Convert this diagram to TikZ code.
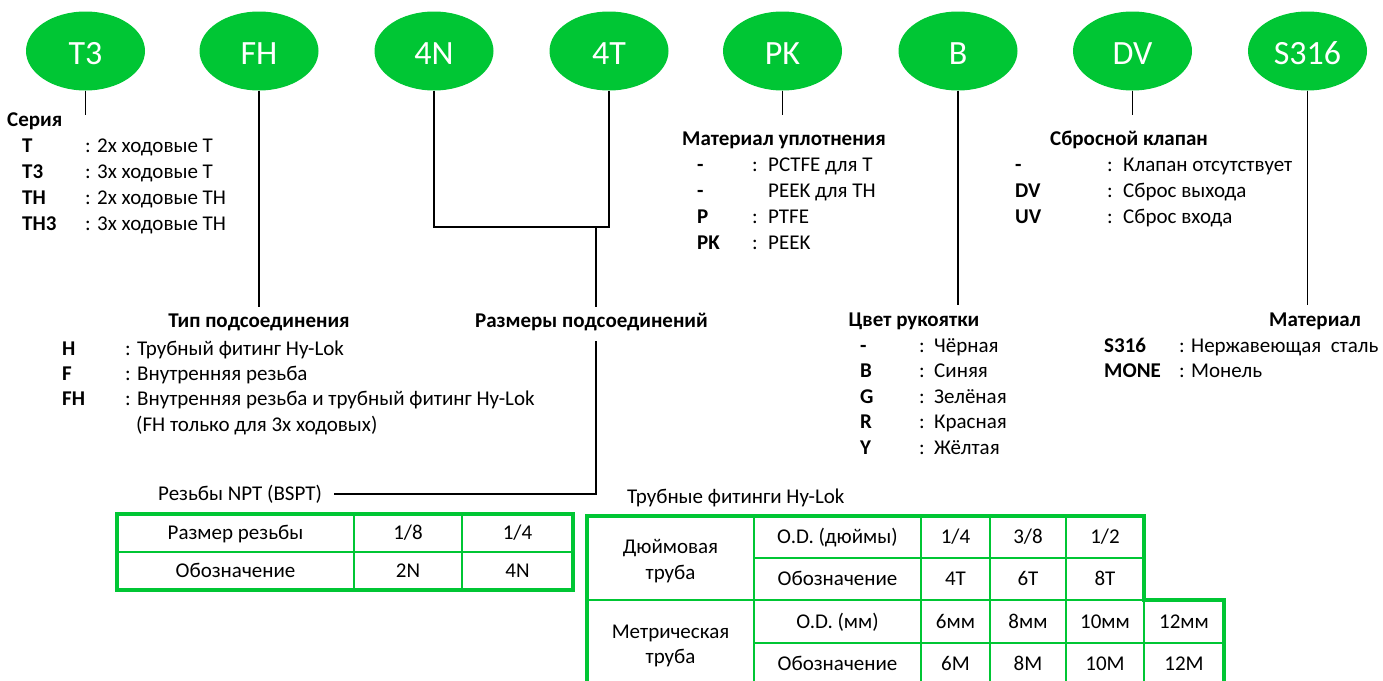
\documentclass[tikz,border=0pt]{standalone}
\usepackage{fontspec}
\setmainfont{Carlito}
\usetikzlibrary{shapes.geometric}
\definecolor{hg}{RGB}{0,198,52}
\begin{document}
\begin{tikzpicture}[x=1pt,y=-1pt,
  font=\fontsize{21}{25.5}\selectfont,
  oval/.style={ellipse, fill=hg, draw=none, minimum width=119pt, minimum height=79pt, inner sep=0pt, text=white, text height=27pt, text depth=0pt, font=\fontsize{34}{40}\selectfont},
  txt/.style={inner sep=0pt, text height=13.5pt, text depth=0pt, anchor=west},
  keyt/.style={txt, font=\fontsize{21}{25.5}\selectfont\bfseries},
  hdr/.style={inner sep=0pt, text height=13.5pt, text depth=0pt, anchor=center, font=\fontsize{21}{25.5}\selectfont\bfseries},
  coln/.style={inner sep=0pt, text height=13.5pt, text depth=0pt, anchor=center},
  tcell/.style={inner sep=0pt, text height=13.5pt, text depth=0pt, anchor=center},
  bigcell/.style={inner sep=0pt, align=center, anchor=center, font=\fontsize{21}{25.5}\selectfont},
  thickb/.style={draw=hg, line width=4pt},
  thinb/.style={draw=hg, line width=2pt},
  conn/.style={draw=black, line width=1.8pt}]
\useasboundingbox (0,0) rectangle (1383,680);
\clip (0,0) rectangle (1383,680);

% ovals
\node[oval] (e1) at (85.5,51) {T3};
\node[oval] (e2) at (259,51) {FH};
\node[oval] (e3) at (434,51) {4N};
\node[oval] (e4) at (609,51) {4T};
\node[oval] (e5) at (782.5,51) {PK};
\node[oval] (e6) at (958,51) {B};
\node[oval] (e7) at (1132.5,51) {DV};
\node[oval] (e8) at (1307.5,51) {S316};

% series
\coordinate (c1) at (85.5,115);
\draw[conn] (e1.south) -- (c1);
\node[keyt] (h1) at (7,120) {Серия};
\node[keyt] (s1k) at (22,146) {T};
\node[keyt] (s2k) at (22,172) {T3};
\node[keyt] (s3k) at (22,198) {TH};
\node[keyt] (s4k) at (22,223.5) {TH3};
\node[coln] (s1c) at (88,146) {:};
\node[coln] (s2c) at (88,172) {:};
\node[coln] (s3c) at (88,198) {:};
\node[coln] (s4c) at (88,223.5) {:};
\node[txt] (s1t) at (97,146) {2х ходовые T};
\node[txt] (s2t) at (97,172) {3х ходовые T};
\node[txt] (s3t) at (97,198) {2х ходовые TH};
\node[txt] (s4t) at (97,223.5) {3х ходовые TH};

% connection type
\coordinate (c2) at (259,307);
\draw[conn] (e2.south) -- (c2);
\node[hdr] (h2) at (259,321) {Тип подсоединения};
\node[keyt] (f1k) at (62,349) {H};
\node[keyt] (f2k) at (62,374) {F};
\node[keyt] (f3k) at (62,399) {FH};
\node[txt] (f1t) at (125,349) {: Трубный фитинг Hy-Lok};
\node[txt] (f2t) at (125,374) {: Внутренняя резьба};
\node[txt] (f3t) at (125,399) {: Внутренняя резьба и трубный фитинг Hy-Lok};
\node[txt] (f4t) at (136,424.5) {(FH только для 3х ходовых)};

% sizes
\coordinate (j1) at (596,227);
\draw[conn] (e3.south) |- (j1) -| (e4.south);
\coordinate (c3) at (596,307);
\draw[conn] (j1) -- (c3);
\node[hdr] (h3) at (591.5,321) {Размеры подсоединений};
\node[txt] (npt) at (158,494) {Резьбы NPT (BSPT)};
\coordinate (c4) at (596,341);
\draw[conn] (c4) |- ([xshift=12pt]npt.east);

% seal material
\coordinate (c5) at (782.5,115);
\draw[conn] (e5.south) -- (c5);
\node[hdr] (h5) at (784,138.5) {Материал уплотнения};
\node[keyt] (p1k) at (697,164.5) {-};
\node[keyt] (p2k) at (697,190.5) {-};
\node[keyt] (p3k) at (697,216.5) {P};
\node[keyt] (p4k) at (697,242.5) {PK};
\node[coln] (p1c) at (755,164.5) {:};
\node[coln] (p3c) at (755,216.5) {:};
\node[coln] (p4c) at (755,242.5) {:};
\node[txt] (p1t) at (768,164.5) {PCTFE для T};
\node[txt] (p2t) at (768,190.5) {PEEK для TH};
\node[txt] (p3t) at (768,216.5) {PTFE};
\node[txt] (p4t) at (768,242.5) {PEEK};

% handle colour
\coordinate (c6) at (958,305);
\draw[conn] (e6.south) -- (c6);
\node[hdr] (h6) at (914,320) {Цвет рукоятки};
\node[keyt] (b1k) at (860,345.5) {-};
\node[keyt] (b2k) at (860,371) {B};
\node[keyt] (b3k) at (860,396.5) {G};
\node[keyt] (b4k) at (860,422) {R};
\node[keyt] (b5k) at (860,447.5) {Y};
\node[coln] (b1c) at (922,345.5) {:};
\node[coln] (b2c) at (922,371) {:};
\node[coln] (b3c) at (922,396.5) {:};
\node[coln] (b4c) at (922,422) {:};
\node[coln] (b5c) at (922,447.5) {:};
\node[txt] (b1t) at (934,345.5) {Чёрная};
\node[txt] (b2t) at (934,371) {Синяя};
\node[txt] (b3t) at (934,396.5) {Зелёная};
\node[txt] (b4t) at (934,422) {Красная};
\node[txt] (b5t) at (934,447.5) {Жёлтая};

% relief valve
\coordinate (c7) at (1132.5,115);
\draw[conn] (e7.south) -- (c7);
\node[hdr] (h7) at (1129,138.5) {Сбросной клапан};
\node[keyt] (d1k) at (1015,164.5) {-};
\node[keyt] (d2k) at (1015,190.5) {DV};
\node[keyt] (d3k) at (1015,216.5) {UV};
\node[coln] (d1c) at (1110,164.5) {:};
\node[coln] (d2c) at (1110,190.5) {:};
\node[coln] (d3c) at (1110,216.5) {:};
\node[txt] (d1t) at (1123,164.5) {Клапан отсутствует};
\node[txt] (d2t) at (1123,190.5) {Сброс выхода};
\node[txt] (d3t) at (1123,216.5) {Сброс входа};

% material
\coordinate (c8) at (1307.5,305);
\draw[conn] (e8.south) -- (c8);
\node[hdr] (h8) at (1315,320) {Материал};
\node[keyt] (m1k) at (1104,345.5) {S316};
\node[keyt] (m2k) at (1104,371) {MONE};
\node[txt] (m1t) at (1179,345.5) {: Нержавеющая\ \ сталь};
\node[txt] (m2t) at (1179,371) {: Монель};

% NPT table
\draw[thinb] (117,552) -- (573,552);
\draw[thinb] (354,514) -- (354,590);
\draw[thinb] (462,514) -- (462,590);
\draw[thickb] (117,514) rectangle (573,590);
\node[tcell] (n11) at (235.5,533) {Размер резьбы};
\node[tcell] (n12) at (408,533) {1/8};
\node[tcell] (n13) at (517.5,533) {1/4};
\node[tcell] (n21) at (235.5,571) {Обозначение};
\node[tcell] (n22) at (408,571) {2N};
\node[tcell] (n23) at (517.5,571) {4N};

% tube fittings table
\node[txt] (tft) at (627,497) {Трубные фитинги Hy-Lok};
\draw[thinb] (754,558) -- (1144,558);
\draw[thinb] (587,600) -- (1144,600);
\draw[thinb] (754,643) -- (1224,643);
\draw[thinb] (754,516) -- (754,690);
\draw[thinb] (921,516) -- (921,690);
\draw[thinb] (990,516) -- (990,690);
\draw[thinb] (1066,516) -- (1066,690);
\draw[thinb] (1144,600) -- (1144,690);
\draw[thickb] (587,690) -- (587,516) -- (1144,516) -- (1144,600) -- (1224,600) -- (1224,690);
\node[bigcell] (t1) at (670.5,561) {Дюймовая\\труба};
\node[bigcell] (t2) at (670.5,646) {Метрическая\\труба};
\node[tcell] (a1) at (837.5,537) {O.D. (дюймы)};
\node[tcell] (a2) at (955.5,537) {1/4};
\node[tcell] (a3) at (1028,537) {3/8};
\node[tcell] (a4) at (1105,537) {1/2};
\node[tcell] (b1) at (837.5,579) {Обозначение};
\node[tcell] (b2) at (955.5,579) {4T};
\node[tcell] (b3) at (1028,579) {6T};
\node[tcell] (b4) at (1105,579) {8T};
\node[tcell] (m1) at (837.5,621.5) {O.D. (мм)};
\node[tcell] (m2) at (955.5,621.5) {6мм};
\node[tcell] (m3) at (1028,621.5) {8мм};
\node[tcell] (m4) at (1105,621.5) {10мм};
\node[tcell] (m5) at (1184,621.5) {12мм};
\node[tcell] (k1) at (837.5,664) {Обозначение};
\node[tcell] (k2) at (955.5,664) {6M};
\node[tcell] (k3) at (1028,664) {8M};
\node[tcell] (k4) at (1105,664) {10M};
\node[tcell] (k5) at (1184,664) {12M};
\end{tikzpicture}
\end{document}
